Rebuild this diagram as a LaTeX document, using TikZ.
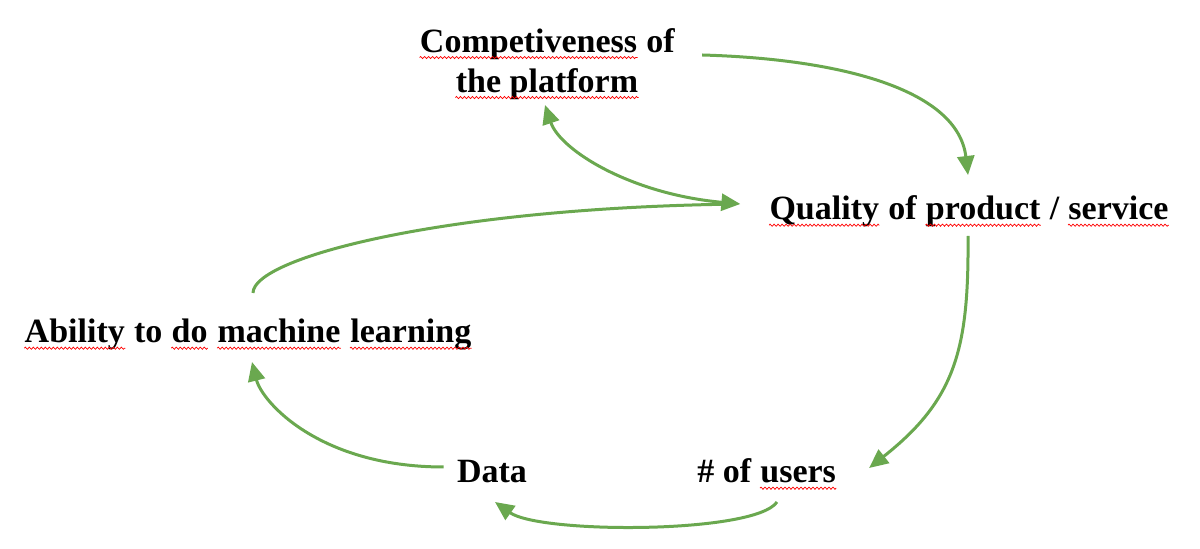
\documentclass[tikz,border=0pt]{standalone}
\usepackage{fontspec}
\setmainfont{Liberation Serif}
\usepackage{tikz}
\usetikzlibrary{arrows.meta}
\usetikzlibrary{calc}
\usetikzlibrary{decorations.pathmorphing}
\usepackage{xcolor}
\definecolor{loopgreen}{RGB}{106,168,79}
\newcommand\spellwave[1]{\tikz[baseline=0pt,x=1pt,y=1pt]{\node[inner sep=0pt,anchor=base] (sw) {#1};
  \draw[red,line width=0.35pt,decorate,decoration={zigzag,amplitude=0.55pt,segment length=2pt}] ([yshift=-2.6pt]sw.base west) -- ([yshift=-2.6pt]sw.base east);}}
\tikzset{
  factor/.style={font=\fontsize{17}{20}\selectfont\bfseries, inner sep=0pt, align=center},
  feedback/.style={draw=loopgreen, line width=1.5pt, -{Triangle[length=9.5pt,width=8.5pt]}},
}

\begin{document}
\begin{tikzpicture}[x=0.5pt,y=-0.5pt]
\useasboundingbox (0,0) rectangle (1200,549);
\node[factor] (comp) at (547,64) {\spellwave{Competiveness} of\\\spellwave{the platform}};
\node[factor,anchor=base] (qual) at (969,220) {\spellwave{Quality} of \spellwave{product} / \spellwave{service}};
\node[factor,anchor=base] (abil) at (248,343) {\spellwave{Ability} to \spellwave{do} \spellwave{machine} \spellwave{learning}};
\node[factor,anchor=base] (data) at (492,483) {Data};
\node[factor,anchor=base] (users) at (767,483) {\# of \spellwave{users}};
% platform -> quality
\draw[feedback] ($(comp.east)+(27,-9)$) .. controls +(140,4) and +(-10,-85) .. ($(qual.base)+(-1,-45)$);
% quality <-> platform
\draw[feedback,{Triangle[length=9.5pt,width=8.5pt]}-{Triangle[length=9.5pt,width=8.5pt]}] ($(comp.south)+(-2,5)$) .. controls +(15,45) and +(-110,-10) .. ($(qual.base west)+(-28,-16)$);
% ability -> quality
\draw[feedback,-,shorten >=8pt] ($(abil.base)+(5,-50)$) .. controls +(0,-35) and +(-300,5) .. ($(qual.base west)+(-28,-16)$);
% quality -> users
\draw[feedback] ($(qual.base)+(-1,16)$) .. controls +(1,114) and +(86,-68) .. ($(users.base east)+(32,-15)$);
% users -> data
\draw[feedback] ($(users.base)+(10,19)$) .. controls +(-22,32) and +(45,32) .. ($(data.base)+(3,19)$);
% data -> ability
\draw[feedback] ($(data.base west)+(-13,-16)$) .. controls +(-124,0) and +(10,40) .. ($(abil.base)+(4,19)$);
\end{tikzpicture}
\end{document}
